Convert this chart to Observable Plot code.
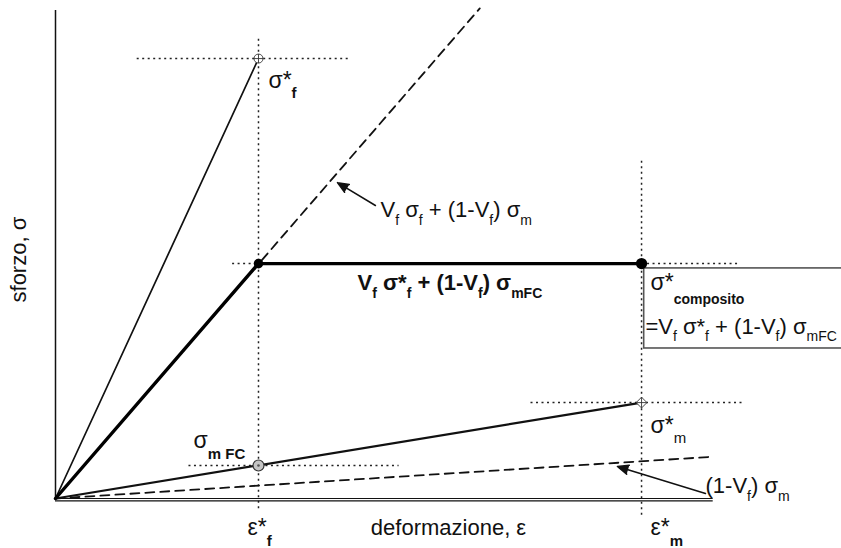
<!DOCTYPE html>
<html><head><meta charset="utf-8">
<script src="https://cdn.jsdelivr.net/npm/d3@7"></script>
<script src="https://cdn.jsdelivr.net/npm/@observablehq/plot@0.6"></script>
<style>html,body{margin:0;padding:0;background:#fff;overflow:hidden;} text{white-space:pre;}</style>
</head><body><div id="chart"></div>
<script>
// ---- values (strain in units of eps*_f, stress in units of sigma*_f = 100) ----
const epsF = 1.0, epsM = 2.887;
const sigmaF = 100, sigmaComp = 53.4, sigmaM = 21.8, sigmaMFC = 7.5;

const fibreLine = [{x: 0, y: 0}, {x: epsF, y: sigmaF}];
const compositeLine = [{x: 0, y: 0}, {x: epsF, y: sigmaComp}, {x: epsM, y: sigmaComp}];
const matrixLine = [{x: 0, y: 0}, {x: epsM, y: sigmaM}];
const mixUpper = [{x: 0, y: 0}, {x: 2.09, y: 111.4}];
const mixLower = [{x: 0, y: 0}, {x: 3.24, y: 9.5}];

const guides = [
  {x1: 0.40, y1: sigmaF, x2: 1.44, y2: sigmaF},
  {x1: epsF, y1: 104.5, x2: epsF, y2: -2.7},
  {x1: 0.87, y1: sigmaComp, x2: epsF, y2: sigmaComp},
  {x1: epsM, y1: sigmaComp, x2: 3.37, y2: sigmaComp},
  {x1: epsM, y1: 76.8, x2: epsM, y2: -4.5},
  {x1: 2.34, y1: sigmaM, x2: 3.38, y2: sigmaM},
  {x1: 0.655, y1: sigmaMFC, x2: 1.69, y2: sigmaMFC}
];

const box = [{x1: 2.90, x2: 3.95, y1: 34.1, y2: 52.3}];
const arrows = [
  {x1: 1.576, y1: 66.6, x2: 1.389, y2: 71.8},
  {x1: 3.202, y1: 1.14, x2: 2.768, y2: 7.27}
];

const bigLabels = [
  {x: 1.049, y: 93.4, text: "σ*_b{f}"},
  {x: 2.931, y: 15.0, text: "σ*_{m}"},
  {x: 0.680, y: 11.4, text: "σ_b{m FC}"},
  {x: 0.946, y: -8.4, text: "ε*_b{f}"},
  {x: 2.931, y: -8.4, text: "ε*_b{m}"}
];
const inlineLabels = [
  {x: 1.601, y: 63.9, text: "V_{f} σ_{f} + (1-V_{f}) σ_{m}"},
  {x: 2.906, y: 37.5, text: "=V_{f} σ*_{f} + (1-V_{f}) σ_{mFC}"},
  {x: 3.202, y: 1.14, text: "(1-V_{f}) σ_{m}"}
];
const boldLabels = [{x: 1.488, y: 47.3, text: "V_{f} σ*_{f} + (1-V_{f}) σ_{mFC}"}];
const compLabels = [{x: 2.931, y: 47.5, text: "σ*_b{composito}"}];
const xTitle = [{x: 1.936, y: -8.4, text: "deformazione, ε"}];
const yTitle = [{x: -0.143, y: 54.3, text: "sforzo, σ"}];

// ---- rich text (sub/superscripts) via Plot.text render ----
function rich(fs, sub, subSize) {
  return function(index, scales, values, dims, ctx, next) {
    const g = next(index, scales, values, dims, ctx);
    d3.select(g).selectAll("text").each(function() {
      const src = this.textContent;
      const sel = d3.select(this);
      sel.text(null);
      const re = /([_^])(b?)\{([^}]*)\}|([^_^]+)/g;
      let cur = 0, m;
      while ((m = re.exec(src))) {
        const ts = sel.append("tspan");
        let shift = 0;
        if (m[1]) {
          shift = (m[1] === "_" ? sub : -0.45) * fs;
          ts.attr("font-size", subSize).text(m[3]);
          if (m[2]) ts.attr("font-weight", "bold");
        } else ts.text(m[4]);
        if (shift !== cur) ts.attr("dy", shift - cur);
        cur = shift;
      }
    });
    return g;
  };
}

const circlePlus = {draw(c, size) {
  const r = Math.sqrt(size / Math.PI);
  c.moveTo(r, 0); c.arc(0, 0, r, 0, 2 * Math.PI);
  c.moveTo(-r, 0); c.lineTo(r, 0); c.moveTo(0, -r); c.lineTo(0, r);
}};
const diamondPlus = {draw(c, size) {
  const r = Math.sqrt(size / Math.PI) * 1.2;
  c.moveTo(0, -r); c.lineTo(r, 0); c.lineTo(0, r); c.lineTo(-r, 0); c.closePath();
  c.moveTo(-r, 0); c.lineTo(r, 0); c.moveTo(0, -r); c.lineTo(0, r);
}};

const font = "Liberation Sans, Arial, Helvetica, sans-serif";
const common = {x: "x", y: "y", text: "text", textAnchor: "start", lineAnchor: "bottom", fill: "#111"};

const chart = Plot.plot({
  width: 841, height: 548,
  marginLeft: 55, marginRight: 0, marginTop: 0, marginBottom: 50,
  x: {domain: [0, 3.872], axis: null},
  y: {domain: [0, 113.2], axis: null},
  style: {fontFamily: font, background: "#fff", overflow: "visible"},
  marks: [
    Plot.link(guides, {x1: "x1", y1: "y1", x2: "x2", y2: "y2", stroke: "#222", strokeWidth: 1.5, strokeDasharray: "2,3.5"}),
    Plot.ruleX([0], {y1: 0, y2: 110.9, stroke: "#111", strokeWidth: 1.5}),
    Plot.ruleY([0], {x1: 0, x2: 3.24, stroke: "#111", strokeWidth: 1.2}),
    Plot.ruleY([0], {x1: 0, x2: 3.24, stroke: "#111", strokeWidth: 1.2, dy: 2.3}),
    Plot.line(mixUpper, {x: "x", y: "y", stroke: "#111", strokeWidth: 1.8, strokeDasharray: "9,6"}),
    Plot.line(mixLower, {x: "x", y: "y", stroke: "#111", strokeWidth: 1.8, strokeDasharray: "9,6"}),
    Plot.line(fibreLine, {x: "x", y: "y", stroke: "#111", strokeWidth: 1.7}),
    Plot.line(matrixLine, {x: "x", y: "y", stroke: "#111", strokeWidth: 2.2}),
    Plot.line(compositeLine, {x: "x", y: "y", stroke: "#000", strokeWidth: 3.4, strokeLinejoin: "round"}),
    Plot.rect(box, {x1: "x1", x2: "x2", y1: "y1", y2: "y2", fill: "none", stroke: "#555", strokeWidth: 1.6}),
    Plot.dot([{x: epsF, y: sigmaF}], {x: "x", y: "y", r: 4.5, symbol: circlePlus, fill: "#fff", stroke: "#333", strokeWidth: 0.9}),
    Plot.dot([{x: epsM, y: sigmaM}], {x: "x", y: "y", r: 4.5, symbol: diamondPlus, fill: "#fff", stroke: "#333", strokeWidth: 0.9}),
    Plot.dot([{x: epsF, y: sigmaMFC}], {x: "x", y: "y", r: 5.5, fill: "#c4c4c4", stroke: "#333", strokeWidth: 1.2}),
    Plot.dot([{x: epsF, y: sigmaMFC}], {x: "x", y: "y", r: 1.3, fill: "#555"}),
    Plot.dot([{x: epsF, y: sigmaComp}], {x: "x", y: "y", r: 4.8, fill: "#000"}),
    Plot.dot([{x: epsM, y: sigmaComp}], {x: "x", y: "y", r: 5.6, fill: "#000"}),
    Plot.arrow(arrows, {x1: "x1", y1: "y1", x2: "x2", y2: "y2", stroke: "#111", strokeWidth: 1.5, headLength: 12, headAngle: 45,
      render(i, s, v, d, c, next) { const g = next(i, s, v, d, c); d3.select(g).selectAll("path").attr("fill", "#111"); return g; }}),
    Plot.text(bigLabels, {...common, fontSize: 23, render: rich(23, 0.46, 15)}),
    Plot.text(inlineLabels, {...common, fontSize: 22, render: rich(22, 0.33, 14)}),
    Plot.text(boldLabels, {...common, fontSize: 22, fontWeight: "bold", render: rich(22, 0.33, 14)}),
    Plot.text(compLabels, {...common, fontSize: 23, render: rich(23, 0.62, 14)}),
    Plot.text(xTitle, {...common, textAnchor: "middle", fontSize: 22}),
    Plot.text(yTitle, {...common, textAnchor: "middle", fontSize: 22, rotate: -90})
  ]
});
document.getElementById("chart").appendChild(chart);
</script>
</body></html>
